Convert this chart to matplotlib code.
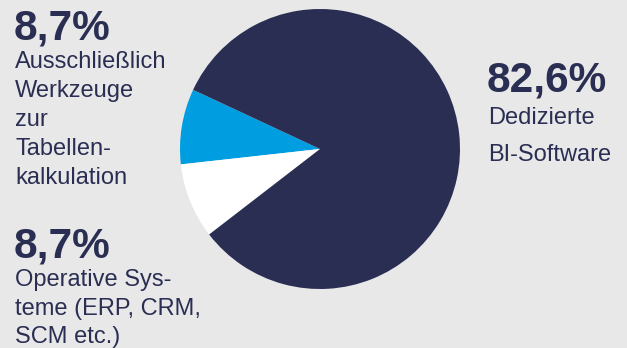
import matplotlib.pyplot as plt

# shares in percent (blue, white, navy) counterclockwise from the upper-left edge
labels = ["Ausschließlich Werkzeuge zur Tabellenkalkulation",
          "Operative Systeme (ERP, CRM, SCM etc.)",
          "Dedizierte BI-Software"]
shares = [8.7, 8.7, 82.6]
value_texts = ["8,7%", "8,7%", "82,6%"]
label_lines = [["Ausschließlich", "Werkzeuge", "zur", "Tabellen-", "kalkulation"],
               ["Operative Sys-", "teme (ERP, CRM,", "SCM etc.)"],
               ["Dedizierte", "BI-Software"]]

navy = "#2a2e52"
blue = "#009ee0"
bg = "#e8e8e8"
colors = [blue, "#ffffff", navy]

plt.rcParams['font.family'] = ['Liberation Sans', 'DejaVu Sans']

W, H = 627, 348
fig = plt.figure(figsize=(W / 100, H / 100), dpi=100)
fig.patch.set_facecolor(bg)
ax = fig.add_axes([0, 0, 1, 1])

ax.pie(shares, colors=colors, startangle=155, counterclock=True,
       center=(320, H - 149), radius=140,
       wedgeprops=dict(linewidth=0))
ax.set_xlim(0, W)
ax.set_ylim(0, H)
ax.set_aspect('equal')
ax.axis('off')

# text blocks: (x, baseline of value, first label baseline, line step)
blocks = [(14, 39, 68, 29.0),
          (14, 257, 286, 28.5),
          (487, 92, 124, 37.0)]

for (x, yv, yl, step), val, lines in zip(blocks, value_texts, label_lines):
    ax.text(x, H - yv, val, fontsize=30.5, fontweight='bold', color=navy,
            va='baseline', ha='left')
    for i, line in enumerate(lines):
        ax.text(x + 1, H - (yl + i * step), line, fontsize=17, color=navy,
                va='baseline', ha='left')

fig.savefig("out.png", dpi=100, facecolor=bg)
